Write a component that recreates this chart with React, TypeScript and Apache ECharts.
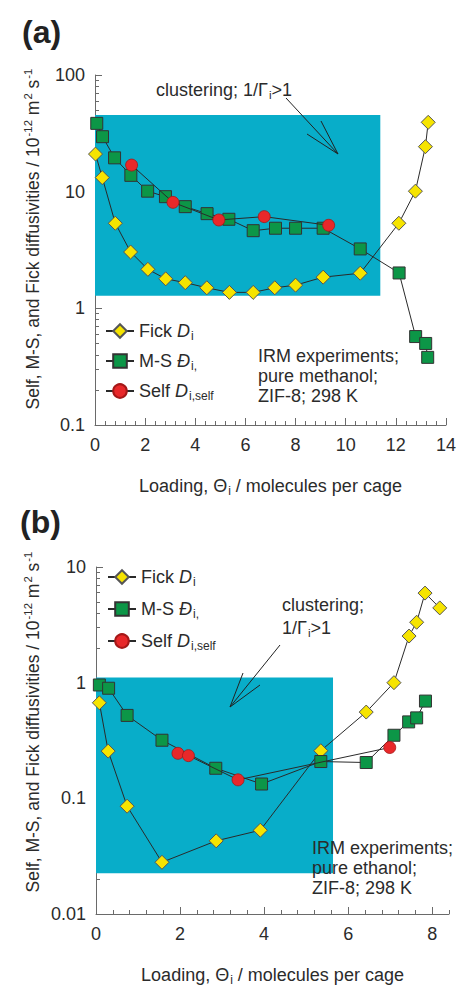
import React, { useEffect, useRef } from 'react';
import * as echarts from 'echarts';

// ---------- data: panel (a) methanol ----------
const aFickX = [0.02, 0.29, 0.81, 1.42, 2.11, 2.82, 3.6, 4.46, 5.36, 6.31, 7.17, 8.0, 9.1, 10.58, 12.12, 12.78, 13.18, 13.29];
const aFickY = [21, 13.2, 5.36, 3.04, 2.16, 1.79, 1.66, 1.5, 1.37, 1.37, 1.5, 1.58, 1.85, 2.0, 5.36, 10.1, 24.3, 39.3];
const aMSX = [0.07, 0.3, 0.78, 1.43, 2.1, 2.81, 3.6, 4.47, 5.34, 6.31, 7.2, 8.0, 9.1, 10.58, 12.13, 12.79, 13.19, 13.27];
const aMSY = [38.5, 29.6, 19.5, 13.8, 10.1, 9.06, 7.44, 6.48, 5.8, 4.63, 4.86, 4.86, 4.86, 3.23, 2.01, 0.573, 0.5, 0.38];
const aSelfX = [1.46, 3.11, 4.94, 6.75, 9.32];
const aSelfY = [16.9, 8.1, 5.72, 6.11, 5.15];
const aRegion = [[0, 1.28], [11.38, 45.4]];

// ---------- data: panel (b) ethanol ----------
const bFickX = [0.08, 0.29, 0.74, 1.57, 2.86, 3.91, 5.35, 6.43, 7.09, 7.45, 7.63, 7.83, 8.18];
const bFickY = [0.67, 0.256, 0.0855, 0.028, 0.0429, 0.053, 0.258, 0.557, 1.0, 2.53, 3.33, 5.95, 4.43];
const bMSX = [0.08, 0.3, 0.74, 1.57, 2.85, 3.94, 5.35, 6.43, 7.09, 7.44, 7.63, 7.84];
const bMSY = [0.955, 0.895, 0.521, 0.318, 0.182, 0.133, 0.208, 0.204, 0.351, 0.458, 0.496, 0.693];
const bSelfX = [1.95, 2.2, 3.38, 6.99];
const bSelfY = [0.245, 0.234, 0.1445, 0.275];
const bRegion = [[0, 0.0225], [5.64, 1.11]];

// ---------- axes ----------
const aXMax = 14;
const bXMax = 8.4;
const xMajorStep = 2;
const xMinorStep = 0.4;
const bXLabels = [0, 2, 4, 6, 8];
const aYRange = [0.1, 100];
const bYRange = [0.01, 10];

const legendNames = ['Fick', 'M-S', 'Self'];

const FONT = '"Liberation Sans", Arial, Helvetica, sans-serif';
const INK = '#2b2b2b';
const AXIS = '#6a6a6a';
const LINE = '#2a2a2a';
const CYAN = '#08adc9';
const YEL = '#f6e400';
const GRN = '#0c9647';
const RED = '#e8282a';

const zip = (xs: number[], ys: number[]) => xs.map((x, i) => [x, ys[i]]);

const baseText = { fontFamily: FONT, fontSize: 18, color: INK };
const rich = {
  n: { ...baseText, lineHeight: 22 },
  d: { ...baseText, fontStyle: 'italic', lineHeight: 22 },
  s: { fontFamily: FONT, fontSize: 12, color: INK, lineHeight: 12, padding: [10, 0, 0, 1] },
};
const gRich = (size: number) => ({
  n: { fontFamily: FONT, fontSize: size, fill: INK, lineHeight: size + 4 },
  s: { fontFamily: FONT, fontSize: size * 0.65, fill: INK, lineHeight: size * 0.65, padding: [size * 0.55, 0, 0, 1] },
  p: { fontFamily: FONT, fontSize: size * 0.65, fill: INK, lineHeight: size * 0.65, padding: [0, 0, size * 0.55, 1] },
});

const legendFormatter = (name: string) => {
  if (name === 'Fick') return '{n|Fick }{d|D}{s|i}';
  if (name === 'M-S') return '{n|M-S }{d|Đ}{s|i,}';
  return '{n|Self }{d|D}{s|i,self}';
};

function makeX(grid: number, max: number, withName: boolean, custom?: number[]) {
  const main: any = {
    type: 'value', gridIndex: grid, min: 0, max, interval: xMajorStep, position: 'bottom',
    axisLine: { show: true, lineStyle: { color: AXIS, width: 1 } },
    axisTick: { show: true, inside: true, length: 7, lineStyle: { color: AXIS, width: 1 } },
    axisLabel: { ...baseText, margin: 11 },
    splitLine: { show: false },
  };
  if (custom) {
    main.axisTick.customValues = custom;
    main.axisLabel.customValues = custom;
  }
  if (withName) {
    main.name = '{n|Loading, Θ}{s|i}{n| / molecules per cage}';
    main.nameLocation = 'middle';
    main.nameGap = 50;
    main.nameTextStyle = { rich };
  }
  const minor = {
    type: 'value', gridIndex: grid, min: 0, max, interval: xMinorStep, position: 'bottom',
    axisLine: { show: false },
    axisTick: { show: true, inside: true, length: 4, lineStyle: { color: AXIS, width: 1 } },
    axisLabel: { show: false },
    splitLine: { show: false },
  };
  return [main, minor];
}

function makeY(grid: number, range: number[]) {
  return {
    type: 'log', logBase: 10, gridIndex: grid, min: range[0], max: range[1],
    axisLine: { show: true, lineStyle: { color: AXIS, width: 1 } },
    axisTick: { show: true, inside: true, length: 7, lineStyle: { color: AXIS } },
    minorTick: { show: true, splitNumber: 9, length: 4, lineStyle: { color: AXIS } },
    axisLabel: { ...baseText, margin: 10, formatter: (v: number) => String(v) },
    splitLine: { show: false },
    minorSplitLine: { show: false },
  };
}

function panelSeries(xi: number, yi: number, fx: number[], fy: number[], mx: number[], my: number[], sx: number[], sy: number[], region: number[][]) {
  return [
    {
      type: 'line', xAxisIndex: xi, yAxisIndex: yi, data: [], silent: true, z: 1,
      markArea: { silent: true, itemStyle: { color: CYAN }, data: [[{ coord: region[0] }, { coord: region[1] }]] },
    },
    {
      name: 'Fick', type: 'line', xAxisIndex: xi, yAxisIndex: yi, data: zip(fx, fy), z: 3,
      symbol: 'diamond', symbolSize: 14, showAllSymbol: true,
      lineStyle: { color: LINE, width: 1 }, itemStyle: { color: YEL, borderColor: '#555', borderWidth: 1 },
    },
    {
      name: 'M-S', type: 'line', xAxisIndex: xi, yAxisIndex: yi, data: zip(mx, my), z: 4,
      symbol: 'rect', symbolSize: 12, showAllSymbol: true,
      lineStyle: { color: LINE, width: 1 }, itemStyle: { color: GRN, borderColor: '#333', borderWidth: 1 },
    },
    {
      name: 'Self', type: 'line', xAxisIndex: xi, yAxisIndex: yi, data: zip(sx, sy), z: 5,
      symbol: 'circle', symbolSize: 12, showAllSymbol: true,
      lineStyle: { color: LINE, width: 1 }, itemStyle: { color: RED, borderColor: '#a51818', borderWidth: 0.8 },
    },
  ];
}

function legendAt(left: number, top: number, gap: number) {
  return {
    orient: 'vertical', left, top, padding: 0, itemWidth: 28, itemHeight: 17, itemGap: gap,
    data: legendNames, selectedMode: false, formatter: legendFormatter,
    textStyle: { rich },
  };
}

export default function App() {
  const ref = useRef<HTMLDivElement>(null);
  useEffect(() => {
    if (!ref.current) return;
    const chart = echarts.init(ref.current, undefined, { renderer: 'svg' });
    const [axMain, axMinor] = makeX(0, aXMax, true);
    const [bxMain, bxMinor] = makeX(1, bXMax, true, bXLabels);
    const r18 = gRich(18);
    const arrowStyle = { stroke: '#222', lineWidth: 1, fill: 'none' };
    const Z = 50;
    const option: any = {
      animation: false,
      grid: [
        { left: 95, top: 75, width: 352, height: 350 },
        { left: 96, top: 567, width: 353, height: 350 },
      ],
      xAxis: [axMain, axMinor, bxMain, bxMinor],
      yAxis: [makeY(0, aYRange), makeY(1, bYRange)],
      legend: [legendAt(105, 320, 8), legendAt(107, 566, 10)],
      series: [
        ...panelSeries(0, 0, aFickX, aFickY, aMSX, aMSY, aSelfX, aSelfY, aRegion),
        ...panelSeries(2, 1, bFickX, bFickY, bMSX, bMSY, bSelfX, bSelfY, bRegion),
      ],
      graphic: [
        { type: 'text', z: Z, x: 22, y: 32, style: { text: '(a)', font: `bold 32px ${FONT}`, fill: '#222', verticalAlign: 'middle' } },
        { type: 'text', z: Z, x: 20, y: 522, style: { text: '(b)', font: `bold 32px ${FONT}`, fill: '#222', verticalAlign: 'middle' } },
        {
          type: 'text', z: Z, x: 33, y: 239, rotation: Math.PI / 2,
          style: { text: '{n|Self, M-S, and Fick diffusivities / 10}{p|-12}{n| m}{p|2}{n| s}{p|-1}', rich: gRich(17.5), align: 'center', verticalAlign: 'middle' },
        },
        {
          type: 'text', z: Z, x: 33, y: 722, rotation: Math.PI / 2,
          style: { text: '{n|Self, M-S, and Fick diffusivities / 10}{p|-12}{n| m}{p|2}{n| s}{p|-1}', rich: gRich(17.5), align: 'center', verticalAlign: 'middle' },
        },
        // panel (a) annotation
        { type: 'text', z: Z, x: 156, y: 90, style: { text: '{n|clustering; 1/Γ}{s|i}{n|>1}', rich: r18, verticalAlign: 'middle' } },
        { type: 'line', z: Z, shape: { x1: 286, y1: 98, x2: 338, y2: 154 }, style: arrowStyle },
        { type: 'polyline', z: Z, shape: { points: [[307, 134], [338, 154], [321, 121]] }, style: arrowStyle },
        { type: 'text', z: Z, x: 258, y: 346, style: { text: 'IRM experiments;\npure methanol;\nZIF-8; 298 K', font: `18px ${FONT}`, fill: INK, lineHeight: 20 } },
        // panel (b) annotation
        { type: 'text', z: Z, x: 282, y: 605, style: { text: '{n|clustering;}', rich: r18, verticalAlign: 'middle' } },
        { type: 'text', z: Z, x: 282, y: 628, style: { text: '{n|1/Γ}{s|i}{n|>1}', rich: r18, verticalAlign: 'middle' } },
        { type: 'line', z: Z, shape: { x1: 280, y1: 645, x2: 230, y2: 707 }, style: arrowStyle },
        { type: 'polyline', z: Z, shape: { points: [[243, 673], [230, 707], [260, 685]] }, style: arrowStyle },
        { type: 'text', z: Z, x: 312, y: 838, style: { text: 'IRM experiments;\npure ethanol;\nZIF-8; 298 K', font: `18px ${FONT}`, fill: INK, lineHeight: 20 } },
      ],
    };
    chart.setOption(option);
    return () => chart.dispose();
  }, []);
  return <div ref={ref} style={{ position: 'absolute', left: 0, top: 0, width: 459, height: 987, background: '#fff' }} />;
}
